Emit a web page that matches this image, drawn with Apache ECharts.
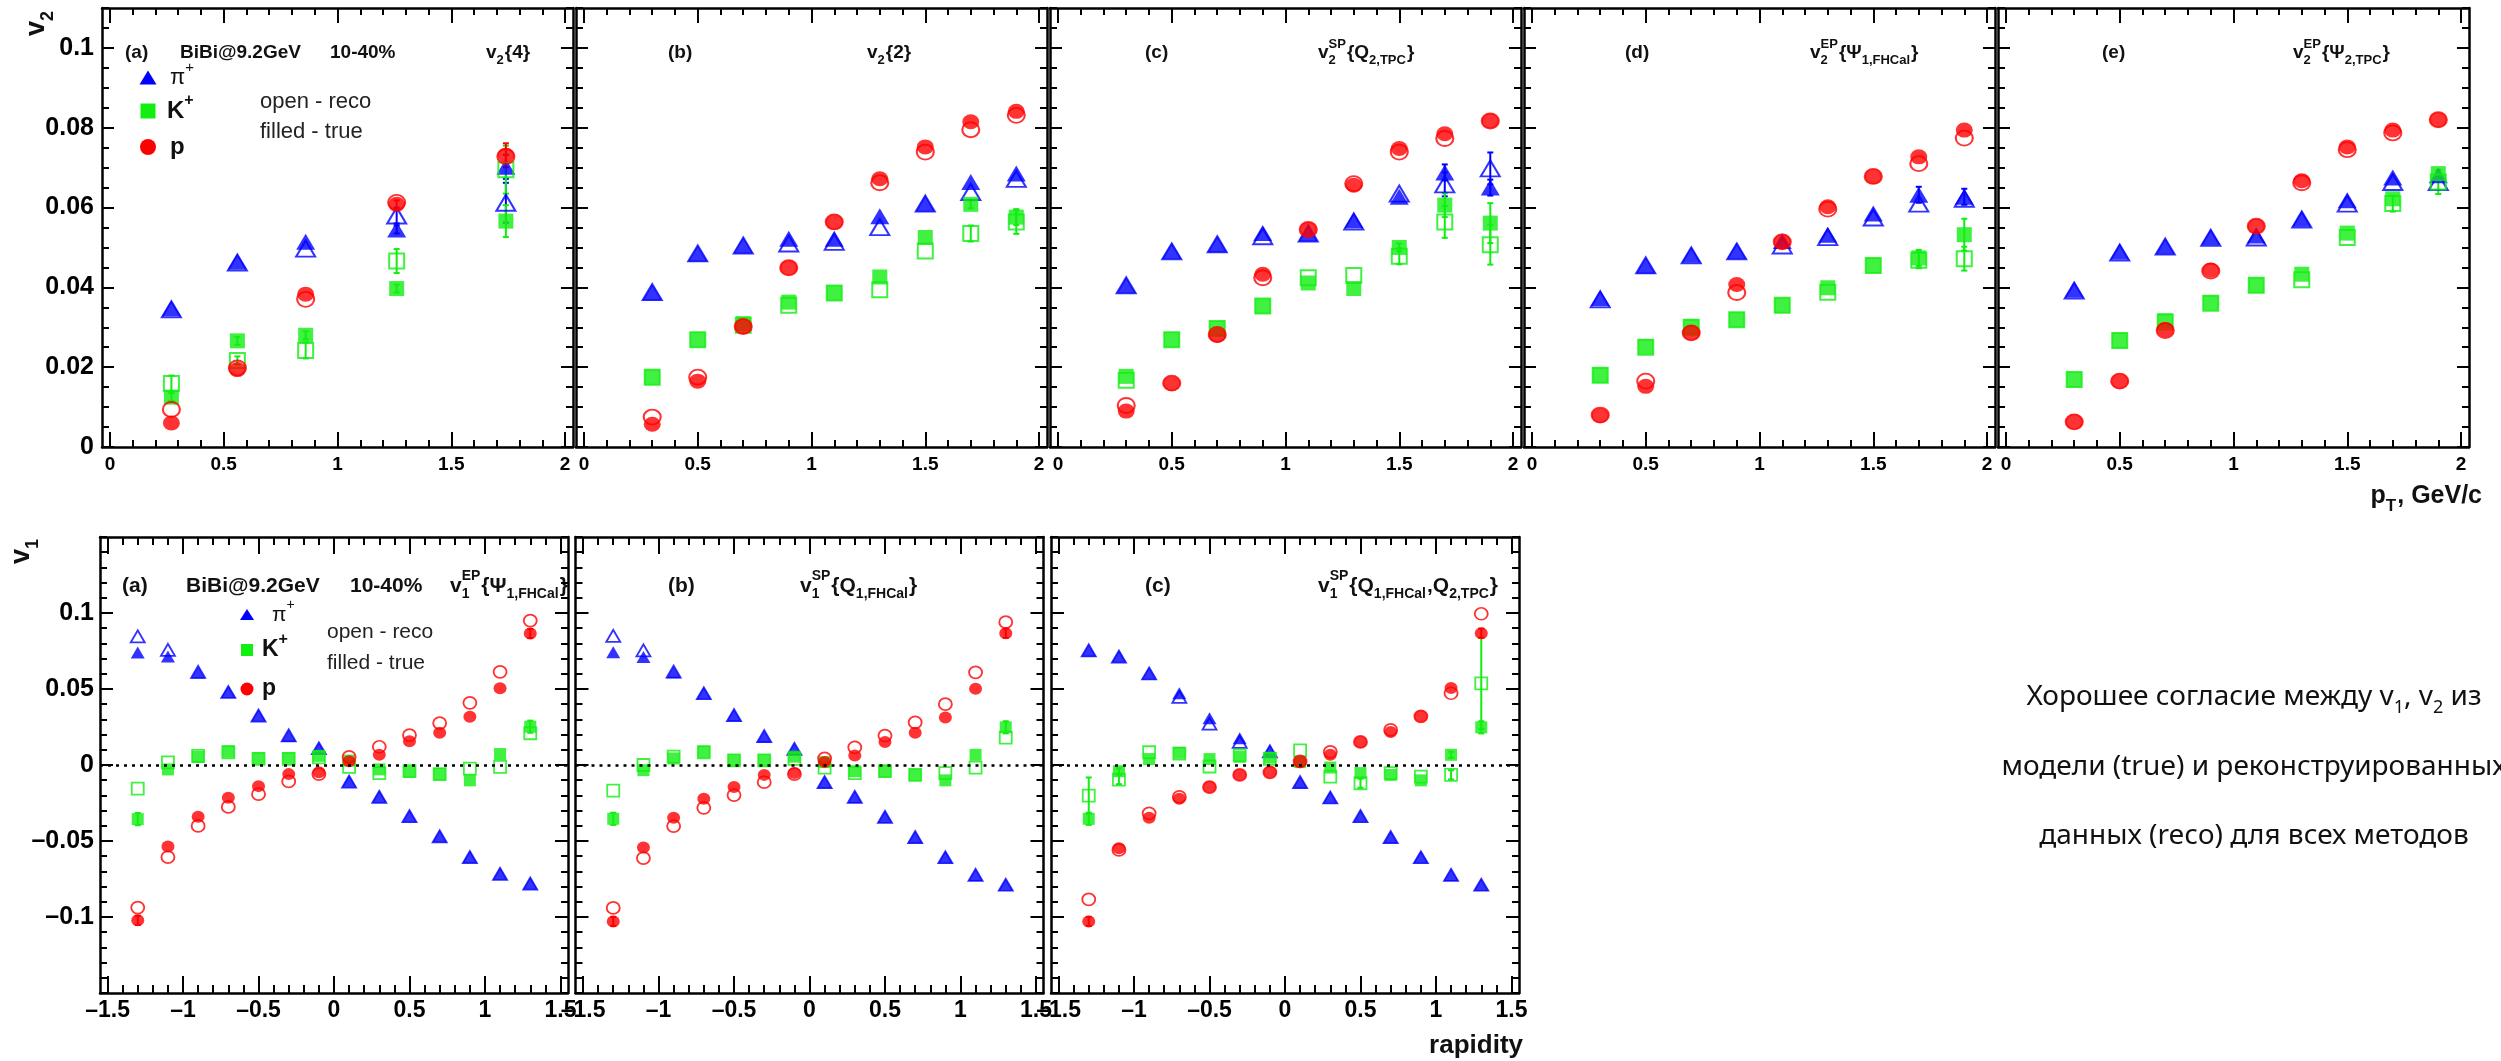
<!DOCTYPE html>
<html lang="ru">
<head>
<meta charset="UTF-8">
<title>v1, v2 BiBi@9.2GeV</title>
<style>
body,html{margin:0;padding:0;background:#fff;}
#main{width:2501px;height:1061px;}
</style>
</head>
<body>
<div id="main"></div>
<script src="https://cdn.jsdelivr.net/npm/echarts@6/dist/echarts.min.js"></script>
<script>
// ---- bins ----
var ptV24 = [0.27, 0.56, 0.86, 1.26, 1.74];
var ptBins = [0.3, 0.5, 0.7, 0.9, 1.1, 1.3, 1.5, 1.7, 1.9];
var yBins = [-1.3, -1.1, -0.9, -0.7, -0.5, -0.3, -0.1, 0.1, 0.3, 0.5, 0.7, 0.9, 1.1, 1.3];

// ---- tick labels ----
var ptTicks = [0, 0.5, 1, 1.5, 2];
var v2Ticks = [0, 0.02, 0.04, 0.06, 0.08, 0.1];
var rapTicks = [-1.5, -1, -0.5, 0, 0.5, 1, 1.5];
var v1Ticks = [-0.1, -0.05, 0, 0.05, 0.1];

// ---- v2{4} ----
var v24PiTrue = [0.0347, 0.0464, 0.0514, 0.0545, 0.0702];
var v24PiReco = [0.0345, 0.0462, 0.0497, 0.0580, 0.0612];
var v24KTrue  = [0.0125, 0.0266, 0.0280, 0.0397, 0.0566];
var v24KReco  = [0.0159, 0.0217, 0.0242, 0.0466, 0.0695];
var v24PTrue  = [0.0060, 0.0194, 0.0383, 0.0608, 0.0731];
var v24PReco  = [0.0094, 0.0198, 0.0370, 0.0613, 0.0728];
var v24PiTrueErr = [0, 0, 0, 0.001, 0.003];
var v24PiRecoErr = [0, 0, 0, 0.002, 0.005];
var v24KTrueErr  = [0.001, 0.001, 0.001, 0.001, 0.004];
var v24KRecoErr  = [0.002, 0.001, 0.002, 0.003, 0.006];
var v24PTrueErr  = [0, 0, 0, 0.001, 0.003];

// ---- v2{2} ----
var v22PiTrue = [0.0388, 0.0485, 0.0505, 0.0522, 0.0522, 0.0578, 0.0610, 0.0664, 0.0685];
var v22PiReco = [0.0388, 0.0485, 0.0505, 0.0510, 0.0514, 0.0551, 0.0610, 0.0639, 0.0672];
var v22KTrue  = [0.0175, 0.0269, 0.0309, 0.0363, 0.0386, 0.0426, 0.0525, 0.0608, 0.0576];
var v22KReco  = [0.0175, 0.0269, 0.0305, 0.0355, 0.0386, 0.0394, 0.0491, 0.0535, 0.0564];
var v22PTrue  = [0.0057, 0.0165, 0.0302, 0.0449, 0.0564, 0.0672, 0.0752, 0.0815, 0.0841];
var v22PReco  = [0.0075, 0.0175, 0.0302, 0.0449, 0.0564, 0.0662, 0.0739, 0.0795, 0.0831];
var v22KTrueErr = [0, 0, 0, 0, 0, 0, 0, 0.001, 0.002];
var v22KRecoErr = [0, 0, 0, 0, 0, 0, 0, 0.002, 0.003];

// ---- v2SP{Q2,TPC} ----
var v2spPiTrue = [0.0405, 0.0491, 0.0508, 0.0536, 0.0535, 0.0568, 0.0627, 0.0688, 0.0650];
var v2spPiReco = [0.0405, 0.0490, 0.0508, 0.0528, 0.0535, 0.0565, 0.0635, 0.0658, 0.0698];
var v2spKTrue  = [0.0177, 0.0269, 0.0297, 0.0353, 0.0411, 0.0397, 0.0500, 0.0606, 0.0561];
var v2spKReco  = [0.0167, 0.0269, 0.0297, 0.0353, 0.0424, 0.0430, 0.0478, 0.0564, 0.0507];
var v2spPTrue  = [0.0090, 0.0159, 0.0280, 0.0433, 0.0545, 0.0656, 0.0748, 0.0785, 0.0817];
var v2spPReco  = [0.0104, 0.0160, 0.0282, 0.0424, 0.0545, 0.0660, 0.0739, 0.0773, 0.0817];
var v2spPiTrueErr = [0, 0, 0, 0, 0, 0, 0, 0.002, 0.002];
var v2spPiRecoErr = [0, 0, 0, 0, 0, 0, 0, 0.003, 0.004];
var v2spKTrueErr  = [0, 0, 0, 0, 0, 0, 0.001, 0.003, 0.005];
var v2spKRecoErr  = [0, 0, 0, 0, 0, 0, 0.002, 0.004, 0.005];

// ---- v2EP{Psi1,FHCal} ----
var v2efPiTrue = [0.0373, 0.0455, 0.0482, 0.0491, 0.0516, 0.0532, 0.0585, 0.0632, 0.0627];
var v2efPiReco = [0.0370, 0.0455, 0.0480, 0.0490, 0.0505, 0.0526, 0.0575, 0.0610, 0.0622];
var v2efKTrue  = [0.0180, 0.0251, 0.0301, 0.0319, 0.0355, 0.0399, 0.0455, 0.0474, 0.0532];
var v2efKReco  = [0.0180, 0.0250, 0.0300, 0.0319, 0.0355, 0.0388, 0.0455, 0.0468, 0.0472];
var v2efPTrue  = [0.0079, 0.0152, 0.0286, 0.0407, 0.0514, 0.0602, 0.0678, 0.0727, 0.0794];
var v2efPReco  = [0.0080, 0.0165, 0.0286, 0.0387, 0.0514, 0.0596, 0.0678, 0.0710, 0.0774];
var v2efPiTrueErr = [0, 0, 0, 0, 0, 0, 0, 0.002, 0.002];
var v2efKTrueErr  = [0, 0, 0, 0, 0, 0, 0, 0.002, 0.004];
var v2efKRecoErr  = [0, 0, 0, 0, 0, 0, 0, 0.002, 0.003];

// ---- v2EP{Psi2,TPC} ----
var v2etPiTrue = [0.0394, 0.0489, 0.0503, 0.0526, 0.0530, 0.0572, 0.0618, 0.0675, 0.0681];
var v2etPiReco = [0.0392, 0.0487, 0.0502, 0.0524, 0.0525, 0.0570, 0.0610, 0.0664, 0.0664];
var v2etKTrue  = [0.0169, 0.0267, 0.0316, 0.0361, 0.0405, 0.0433, 0.0536, 0.0622, 0.0685];
var v2etKReco  = [0.0169, 0.0267, 0.0313, 0.0360, 0.0405, 0.0419, 0.0525, 0.0610, 0.0664];
var v2etPTrue  = [0.0063, 0.0165, 0.0294, 0.0443, 0.0553, 0.0667, 0.0752, 0.0794, 0.0820];
var v2etPReco  = [0.0063, 0.0165, 0.0292, 0.0441, 0.0553, 0.0662, 0.0745, 0.0787, 0.0820];
var v2etKRecoErr = [0, 0, 0, 0, 0, 0, 0, 0.002, 0.003];

// ---- v1EP{Psi1,FHCal} ----
var v1efPiTrue = [0.0740, 0.0714, 0.0608, 0.0480, 0.0325, 0.0192, 0.0108, -0.0108, -0.0209, -0.0337, -0.0469, -0.0606, -0.0716, -0.0780];
var v1efPiReco = [0.0846, 0.0757, 0.0612, 0.0480, 0.0325, 0.0195, 0.0110, -0.0110, -0.0210, -0.0337, -0.0470, -0.0606, -0.0716, -0.0780];
var v1efKTrue  = [-0.0356, -0.0029, 0.0053, 0.0089, 0.0043, 0.0043, 0.0060, 0.0029, -0.0029, -0.0043, -0.0060, -0.0101, 0.0072, 0.0252];
var v1efKReco  = [-0.0156, 0.0017, 0.0060, 0.0084, 0.0040, 0.0040, 0.0050, -0.0012, -0.0053, -0.0040, -0.0060, -0.0024, -0.0012, 0.0209];
var v1efPTrue  = [-0.1022, -0.0536, -0.0341, -0.0216, -0.0139, -0.0060, -0.0048, 0.0024, 0.0067, 0.0156, 0.0212, 0.0317, 0.0505, 0.0865];
var v1efPReco  = [-0.0938, -0.0606, -0.0401, -0.0276, -0.0192, -0.0108, -0.0060, 0.0053, 0.0120, 0.0197, 0.0276, 0.0409, 0.0613, 0.0950];
var v1efKTrueErr = [0.004, 0, 0, 0, 0, 0, 0, 0, 0, 0, 0, 0, 0, 0.004];
var v1efPTrueErr = [0.003, 0, 0, 0, 0, 0, 0, 0, 0, 0, 0, 0, 0, 0.003];

// ---- v1SP{Q1,FHCal} ----
var v1sfPiTrue = [0.0742, 0.0711, 0.0610, 0.0472, 0.0328, 0.0188, 0.0104, -0.0113, -0.0210, -0.0342, -0.0475, -0.0607, -0.0723, -0.0788];
var v1sfPiReco = [0.0850, 0.0754, 0.0614, 0.0472, 0.0328, 0.0190, 0.0106, -0.0113, -0.0210, -0.0342, -0.0475, -0.0607, -0.0723, -0.0788];
var v1sfKTrue  = [-0.0354, -0.0034, 0.0043, 0.0087, 0.0031, 0.0031, 0.0055, 0.0019, -0.0041, -0.0041, -0.0065, -0.0101, 0.0067, 0.0248];
var v1sfKReco  = [-0.0169, 0.0000, 0.0055, 0.0084, 0.0030, 0.0030, 0.0040, -0.0017, -0.0053, -0.0040, -0.0065, -0.0053, -0.0017, 0.0180];
var v1sfPTrue  = [-0.1029, -0.0542, -0.0347, -0.0222, -0.0145, -0.0065, -0.0053, 0.0019, 0.0063, 0.0152, 0.0212, 0.0313, 0.0501, 0.0867];
var v1sfPReco  = [-0.0940, -0.0612, -0.0402, -0.0282, -0.0198, -0.0113, -0.0060, 0.0043, 0.0116, 0.0193, 0.0280, 0.0400, 0.0610, 0.0940];
var v1sfKTrueErr = [0.004, 0, 0, 0, 0, 0, 0, 0, 0, 0, 0, 0, 0, 0.004];
var v1sfPTrueErr = [0.003, 0, 0, 0, 0, 0, 0, 0, 0, 0, 0, 0, 0, 0.003];

// ---- v1SP{Q1,FHCal,Q2,TPC} ----
var v1stPiTrue = [0.0754, 0.0713, 0.0602, 0.0472, 0.0308, 0.0176, 0.0092, -0.0113, -0.0214, -0.0337, -0.0475, -0.0607, -0.0723, -0.0788];
var v1stPiReco = [0.0754, 0.0713, 0.0602, 0.0448, 0.0272, 0.0152, 0.0090, -0.0113, -0.0214, -0.0337, -0.0475, -0.0607, -0.0723, -0.0788];
var v1stKTrue  = [-0.0354, -0.0041, 0.0039, 0.0080, 0.0039, 0.0055, 0.0048, 0.0019, -0.0017, -0.0053, -0.0065, -0.0101, 0.0067, 0.0248];
var v1stKReco  = [-0.0202, -0.0096, 0.0084, 0.0075, -0.0010, 0.0063, 0.0040, 0.0096, -0.0077, -0.0120, -0.0053, -0.0077, -0.0065, 0.0537];
var v1stPTrue  = [-0.1029, -0.0547, -0.0347, -0.0222, -0.0145, -0.0065, -0.0048, 0.0019, 0.0067, 0.0152, 0.0217, 0.0320, 0.0506, 0.0867];
var v1stPReco  = [-0.0884, -0.0559, -0.0318, -0.0210, -0.0145, -0.0065, -0.0048, 0.0024, 0.0087, 0.0152, 0.0231, 0.0320, 0.0472, 0.0995];
var v1stKTrueErr = [0.004, 0.002, 0, 0, 0, 0, 0, 0, 0, 0, 0, 0, 0.002, 0.004];
var v1stKRecoErr = [0.012, 0.003, 0, 0, 0, 0, 0, 0, 0, 0.003, 0, 0, 0.003, 0.030];
var v1stPTrueErr = [0.003, 0, 0, 0, 0, 0, 0, 0, 0, 0, 0, 0, 0, 0.003];

// panels: per species [true, reco, trueErr, recoErr]
var topPanels = [
  {x: ptV24, s: [[v24PiTrue, v24PiReco, v24PiTrueErr, v24PiRecoErr], [v24KTrue, v24KReco, v24KTrueErr, v24KRecoErr], [v24PTrue, v24PReco, v24PTrueErr, null]]},
  {x: ptBins, s: [[v22PiTrue, v22PiReco, null, null], [v22KTrue, v22KReco, v22KTrueErr, v22KRecoErr], [v22PTrue, v22PReco, null, null]]},
  {x: ptBins, s: [[v2spPiTrue, v2spPiReco, v2spPiTrueErr, v2spPiRecoErr], [v2spKTrue, v2spKReco, v2spKTrueErr, v2spKRecoErr], [v2spPTrue, v2spPReco, null, null]]},
  {x: ptBins, s: [[v2efPiTrue, v2efPiReco, v2efPiTrueErr, null], [v2efKTrue, v2efKReco, v2efKTrueErr, v2efKRecoErr], [v2efPTrue, v2efPReco, null, null]]},
  {x: ptBins, s: [[v2etPiTrue, v2etPiReco, null, null], [v2etKTrue, v2etKReco, null, v2etKRecoErr], [v2etPTrue, v2etPReco, null, null]]}
];
var botPanels = [
  {x: yBins, s: [[v1efPiTrue, v1efPiReco, null, null], [v1efKTrue, v1efKReco, v1efKTrueErr, null], [v1efPTrue, v1efPReco, v1efPTrueErr, null]]},
  {x: yBins, s: [[v1sfPiTrue, v1sfPiReco, null, null], [v1sfKTrue, v1sfKReco, v1sfKTrueErr, null], [v1sfPTrue, v1sfPReco, v1sfPTrueErr, null]]},
  {x: yBins, s: [[v1stPiTrue, v1stPiReco, null, null], [v1stKTrue, v1stKReco, v1stKTrueErr, v1stKRecoErr], [v1stPTrue, v1stPReco, v1stPTrueErr, null]]}
];

var FONT = '"Liberation Sans", Arial, Helvetica, sans-serif';
var SPECIES = [
  {name: 'π+', color: '#0000ff', symbol: 'triangle', big: [19, 16], small: [14, 12]},
  {name: 'K+', color: '#11ee11', symbol: 'rect', big: [15, 15], small: [12, 12]},
  {name: 'p', color: '#ff0000', symbol: 'circle', big: [17, 15], small: [13, 12]}
];

// frame layout (pixels)
var TOP = {left0: 102, step: 474, width: 471, top: 8, height: 439, xmin: -0.035, xmax: 2.035, ymin: 0, ymax: 0.11,
  xMinor: 0.1, yMinor: 0.005, xLab: 19, xMargin: 8, yLab: 25, yMargin: 8, xt: 15, xt2: 7, yt: 12, yt2: 7};
var BOT = {left0: 100, step: 475.5, width: 468, top: 537, height: 456, xmin: -1.55, xmax: 1.55, ymin: -0.15, ymax: 0.15,
  xMinor: 0.1, yMinor: 0.01, xLab: 23, xMargin: 6, yLab: 25, yMargin: 6, xt: 17, xt2: 8, yt: 13, yt2: 7};

function steps(a, b, s) {
  var out = [];
  for (var k = Math.ceil(a / s - 1e-9); k * s <= b + 1e-9; k++) out.push(+(k * s).toFixed(4));
  return out;
}
function fmt(v) {
  return String(+(+v).toFixed(3)).replace('-', '\u2013');
}

var grids = [], xAxes = [], yAxes = [], series = [];

function addPanel(L, i, xMaj, yMaj, showY) {
  var gi = grids.length;
  grids.push({left: L.left0 + L.step * i, top: L.top, width: L.width, height: L.height,
    containLabel: false, outerBoundsMode: 'none'});
  var xMinor = steps(L.xmin, L.xmax, L.xMinor), yMinor = steps(L.ymin, L.ymax, L.yMinor);
  var line = {show: true, onZero: false, lineStyle: {color: '#000', width: 2.5}};
  var noLine = {show: false, onZero: false};
  function tick(vals, len) {
    return {show: true, inside: true, length: len, customValues: vals, lineStyle: {color: '#000', width: 2}};
  }
  var off = {show: false};
  var xl = {show: true, customValues: xMaj, formatter: fmt, fontSize: L.xLab, fontWeight: 'bold',
    fontFamily: FONT, color: '#000', margin: L.xMargin};
  var yl = {show: showY, customValues: yMaj, formatter: fmt, fontSize: L.yLab, fontWeight: 'bold',
    fontFamily: FONT, color: '#000', margin: L.yMargin};
  var xi = xAxes.length, yi = yAxes.length;
  [['bottom', line, tick(xMaj, L.xt), xl], ['bottom', noLine, tick(xMinor, L.xt2), off],
   ['top', line, tick(xMaj, L.xt), off], ['top', noLine, tick(xMinor, L.xt2), off]].forEach(function (a) {
    xAxes.push({type: 'value', gridIndex: gi, position: a[0], min: L.xmin, max: L.xmax,
      axisLine: a[1], axisTick: a[2], axisLabel: a[3], splitLine: {show: false}, silent: true});
  });
  [['left', line, tick(yMaj, L.yt), yl], ['left', noLine, tick(yMinor, L.yt2), off],
   ['right', line, tick(yMaj, L.yt), off], ['right', noLine, tick(yMinor, L.yt2), off]].forEach(function (a) {
    yAxes.push({type: 'value', gridIndex: gi, position: a[0], min: L.ymin, max: L.ymax,
      axisLine: a[1], axisTick: a[2], axisLabel: a[3], splitLine: {show: false}, silent: true});
  });
  return {xi: xi, yi: yi};
}

function errSeries(ax, xs, vals, errs, color) {
  var d = [];
  xs.forEach(function (x, i) { if (errs[i] > 0) d.push([x, vals[i] - errs[i], vals[i] + errs[i]]); });
  return {
    type: 'custom', xAxisIndex: ax.xi, yAxisIndex: ax.yi, silent: true, data: d,
    renderItem: function (params, api) {
      var a = api.coord([api.value(0), api.value(1)]);
      var b = api.coord([api.value(0), api.value(2)]);
      var st = {stroke: color, lineWidth: 2};
      return {type: 'group', children: [
        {type: 'line', shape: {x1: a[0], y1: a[1], x2: b[0], y2: b[1]}, style: st},
        {type: 'line', shape: {x1: a[0] - 3, y1: a[1], x2: a[0] + 3, y2: a[1]}, style: st},
        {type: 'line', shape: {x1: b[0] - 3, y1: b[1], x2: b[0] + 3, y2: b[1]}, style: st}
      ]};
    }
  };
}

function buildPanel(L, i, panel, xMaj, yMaj, big, zeroLine) {
  var ax = addPanel(L, i, xMaj, yMaj, i === 0);
  var first = true;
  panel.s.forEach(function (sd, k) {
    var sp = SPECIES[k];
    var size = big ? sp.big : sp.small;
    if (sd[3]) series.push(errSeries(ax, panel.x, sd[1], sd[3], sp.color));
    if (sd[2]) series.push(errSeries(ax, panel.x, sd[0], sd[2], sp.color));
    var reco = {
      type: 'scatter', name: sp.name + ' reco', xAxisIndex: ax.xi, yAxisIndex: ax.yi, silent: true,
      symbol: sp.symbol, symbolSize: size,
      itemStyle: {color: 'rgba(255,255,255,0)', borderColor: sp.color, borderWidth: big ? 2 : 1.8},
      data: panel.x.map(function (x, j) { return [x, sd[1][j]]; })
    };
    if (zeroLine && first) {
      reco.markLine = {silent: true, symbol: ['none', 'none'], label: {show: false},
        lineStyle: {type: [3, 5], color: '#000', width: 2.5}, data: [{yAxis: 0}]};
    }
    first = false;
    series.push(reco);
    series.push({
      type: 'scatter', name: sp.name, xAxisIndex: ax.xi, yAxisIndex: ax.yi, silent: true,
      symbol: sp.symbol, symbolSize: size, itemStyle: {color: sp.color},
      data: panel.x.map(function (x, j) { return [x, sd[0][j]]; })
    });
  });
}

topPanels.forEach(function (p, i) { buildPanel(TOP, i, p, ptTicks, v2Ticks, true, false); });
botPanels.forEach(function (p, i) { buildPanel(BOT, i, p, rapTicks, v1Ticks, false, true); });

// ---- texts ----
var mctx = document.createElement('canvas').getContext('2d');
function tw(s, size, weight) {
  mctx.font = (weight || 'bold') + ' ' + size + 'px ' + FONT;
  return mctx.measureText(s).width;
}
function txt(x, y, s, size, weight, color) {
  return {type: 'text', x: x, y: y, silent: true, style: {
    text: s, fill: color || '#111', font: (weight || 'bold') + ' ' + size + 'px ' + FONT,
    textAlign: 'left', textVerticalAlign: 'middle', align: 'left', verticalAlign: 'middle'}};
}
function formula(x, y, parts, size, align, weight) {
  var sub = Math.round(size * 0.68), w = 0, items = [];
  weight = weight || 'bold';
  parts.forEach(function (pt) {
    if (typeof pt === 'string') {
      items.push({t: pt, dx: w, dy: 0, s: size});
      w += tw(pt, size, weight);
    } else {
      var ww = 0;
      if (pt.sup) { items.push({t: pt.sup, dx: w, dy: -size * 0.45, s: sub}); ww = tw(pt.sup, sub, weight); }
      if (pt.sub) { items.push({t: pt.sub, dx: w, dy: size * 0.4, s: sub}); ww = Math.max(ww, tw(pt.sub, sub, weight)); }
      w += ww + 1;
    }
  });
  var x0 = align === 'right' ? x - w : x;
  return items.map(function (it) { return txt(x0 + it.dx, y + it.dy, it.t, it.s, weight); });
}

var g = [];
function add(arr) { arr.forEach(function (e) { g.push(e); }); }

// top row captions
var ty = 53, ts = 19;
g.push(txt(125, ty, '(a)', ts));
g.push(txt(180, ty, 'BiBi@9.2GeV', ts));
g.push(txt(330, ty, '10-40%', ts));
add(formula(486, ty, ['v', {sub: '2'}, '{4}'], ts));
g.push(txt(668, ty, '(b)', ts));
add(formula(867, ty, ['v', {sub: '2'}, '{2}'], ts));
g.push(txt(1145, ty, '(c)', ts));
add(formula(1318, ty, ['v', {sup: 'SP', sub: '2'}, '{Q', {sub: '2,TPC'}, '}'], ts));
g.push(txt(1625, ty, '(d)', ts));
add(formula(1810, ty, ['v', {sup: 'EP', sub: '2'}, '{Ψ', {sub: '1,FHCal'}, '}'], ts));
g.push(txt(2102, ty, '(e)', ts));
add(formula(2293, ty, ['v', {sup: 'EP', sub: '2'}, '{Ψ', {sub: '2,TPC'}, '}'], ts));

// bottom row captions
var by = 586, bs = 21;
g.push(txt(122, by, '(a)', bs));
g.push(txt(186, by, 'BiBi@9.2GeV', bs));
g.push(txt(350, by, '10-40%', bs));
add(formula(450, by, ['v', {sup: 'EP', sub: '1'}, '{Ψ', {sub: '1,FHCal'}, '}'], bs));
g.push(txt(668, by, '(b)', bs));
add(formula(800, by, ['v', {sup: 'SP', sub: '1'}, '{Q', {sub: '1,FHCal'}, '}'], bs));
g.push(txt(1145, by, '(c)', bs));
add(formula(1318, by, ['v', {sup: 'SP', sub: '1'}, '{Q', {sub: '1,FHCal'}, ',Q', {sub: '2,TPC'}, '}'], bs));

// legends
function legend(cx, ys, sz, labX, fs, lx, ly1, ly2, lfs) {
  var h = sz / 2;
  g.push({type: 'polygon', silent: true, shape: {points: [[cx - h - 1, ys[0] + h - 1], [cx + h + 1, ys[0] + h - 1], [cx, ys[0] - h]]},
    style: {fill: SPECIES[0].color}});
  g.push({type: 'rect', silent: true, shape: {x: cx - h, y: ys[1] - h, width: sz, height: sz}, style: {fill: SPECIES[1].color}});
  g.push({type: 'circle', silent: true, shape: {cx: cx, cy: ys[2], r: h + 0.5}, style: {fill: SPECIES[2].color}});
  add(formula(labX[0], ys[0], ['π', {sup: '+'}], fs, 'left', 'normal'));
  add(formula(labX[1], ys[1], ['K', {sup: '+'}], fs + 2));
  g.push(txt(labX[2], ys[2], 'p', fs + 2));
  g.push(txt(lx, ly1, 'open - reco', lfs, 'normal', '#222'));
  g.push(txt(lx, ly2, 'filled - true', lfs, 'normal', '#222'));
}
legend(148, [78, 111, 147], 15, [170, 167, 170], 22, 260, 102, 132, 22);
legend(247, [615, 650, 689], 12, [272, 262, 262], 21, 327, 632, 663, 21);

// axis titles
g.push({type: 'group', x: 37, y: 36, rotation: Math.PI / 2, silent: true,
  children: formula(0, 0, ['v', {sub: '2'}], 27)});
g.push({type: 'group', x: 22, y: 564, rotation: Math.PI / 2, silent: true,
  children: formula(0, 0, ['v', {sub: '1'}], 27)});
add(formula(2482, 496, ['p', {sub: 'T'}, ', GeV/c'], 25, 'right'));
add(formula(1523, 1046, ['rapidity'], 26, 'right'));

// note on the right
var RF = '"Noto Sans", "Open Sans", sans-serif';
var noteLines = [
  '{n|Хорошее согласие между v}{s|1}{n|, v}{s|2}{n| из}',
  '{n|модели (true) и реконструированных}',
  '{n|данных (reco) для всех методов}'
];
var noteY = [697, 767, 836];
noteLines.forEach(function (s, i) {
  g.push({type: 'text', x: 2254, y: noteY[i], silent: true, style: {
    text: s, textAlign: 'center', textVerticalAlign: 'middle', align: 'center', verticalAlign: 'middle',
    rich: {
      n: {fontSize: 28, fontFamily: RF, fill: '#111', color: '#111', lineHeight: 40},
      s: {fontSize: 18, fontFamily: RF, fill: '#111', color: '#111', lineHeight: 18, verticalAlign: 'bottom'}
    }
  }});
});

var chart = echarts.init(document.getElementById('main'));
chart.setOption({
  animation: false,
  backgroundColor: '#fff',
  grid: grids,
  xAxis: xAxes,
  yAxis: yAxes,
  series: series,
  graphic: {elements: g}
});
window.addEventListener('resize', function () { chart.resize(); });
</script>
</body>
</html>
